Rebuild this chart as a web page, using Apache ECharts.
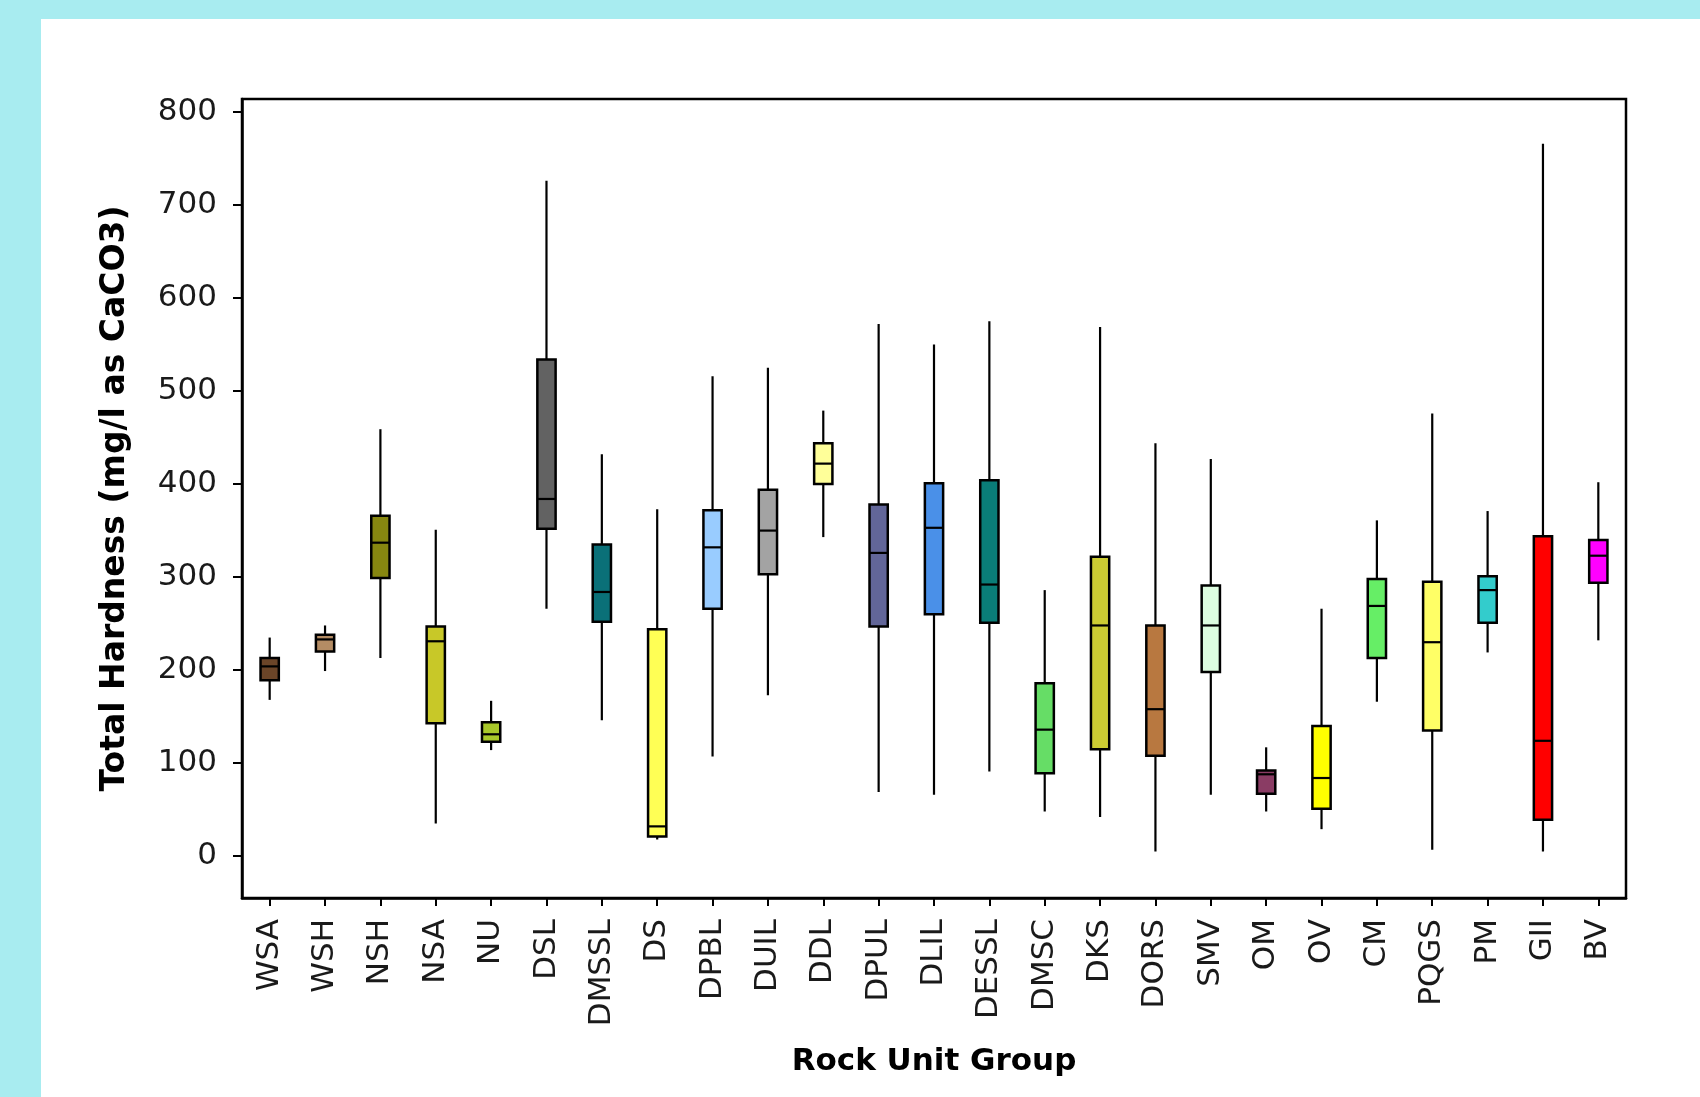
<!DOCTYPE html>
<html>
<head>
<meta charset="utf-8">
<script src="https://cdn.jsdelivr.net/npm/echarts@6/dist/echarts.min.js"></script>
<style>
html,body{margin:0;padding:0;background:#a8ecf0;}
#chart{width:1700px;height:1097px;}
</style>
</head>
<body>
<div id="chart"></div>
<script>
const categories = ['WSA','WSH','NSH','NSA','NU','DSL','DMSSL','DS','DPBL','DUIL','DDL','DPUL','DLIL','DESSL','DMSC','DKS','DORS','SMV','OM','OV','CM','PQGS','PM','GII','BV'];
const lows    = [168,199,213, 35,114,266,146, 18,107,173,343, 69, 66, 91, 48, 42,  5, 66, 48, 29,166,  7,219,  5,232];
const q1s     = [189,220,299,143,123,352,252, 21,266,303,400,247,260,251, 89,115,108,198, 67, 51,213,135,251, 39,294];
const medians = [204,233,337,231,131,384,284, 32,332,350,422,326,353,292,136,248,158,248, 88, 84,269,230,286,124,323];
const q3s     = [213,238,366,247,144,534,335,244,372,394,444,378,401,404,186,322,248,291, 92,140,298,295,301,344,340];
const highs   = [235,248,459,351,167,726,432,373,516,525,479,572,550,575,286,569,444,427,117,266,361,476,371,766,402];
const yTicks  = [0,100,200,300,400,500,600,700,800];
const boxColors = ['#6b4528','#b48c64','#878710','#c8c828','#a8c82a','#626262','#0a7078','#ffff55','#99ccff','#a3a3a3','#ffff99','#626699','#4a90e8','#0a7d78','#66dd66','#cccc33','#b87840','#ddfde0','#8a3c64','#ffff00','#66ee66','#ffff66','#33cccc','#ff0000','#ff00ff'];

const seriesData = categories.map((c, i) => [i, lows[i], q1s[i], medians[i], q3s[i], highs[i]]);

const chart = echarts.init(document.getElementById('chart'), null, {renderer: 'canvas'});
chart.setOption({
  animation: false,
  backgroundColor: '#a8ecf0',
  graphic: [{
    type: 'rect', z: -10, silent: true,
    shape: {x: 41, y: 19, width: 1700, height: 1097},
    style: {fill: '#ffffff'}
  }],
  grid: {
    left: 242, top: 99, right: 74, bottom: 199,
    show: true, borderColor: '#000', borderWidth: 2.5, backgroundColor: 'transparent'
  },
  xAxis: {
    type: 'category',
    data: categories,
    boundaryGap: true,
    axisLine: {show: true, onZero: false, lineStyle: {color: '#000', width: 2.5}},
    axisTick: {show: true, alignWithLabel: true, length: 8, lineStyle: {color: '#000', width: 2}},
    axisLabel: {rotate: 90, interval: 0, margin: 21, fontSize: 31, color: '#1a1a1a', fontFamily: 'DejaVu Sans'},
    splitLine: {show: false},
    name: 'Rock Unit Group',
    nameLocation: 'middle',
    nameGap: 148,
    nameTextStyle: {fontSize: 31, fontWeight: 'bold', color: '#000', fontFamily: 'DejaVu Sans'}
  },
  yAxis: {
    type: 'value',
    min: -45, max: 814,
    axisLine: {show: true, lineStyle: {color: '#000', width: 2.5}},
    axisTick: {show: true, length: 9, customValues: yTicks, lineStyle: {color: '#000', width: 2}},
    axisLabel: {customValues: yTicks, margin: 25, fontSize: 31, color: '#1a1a1a', fontFamily: 'DejaVu Sans'},
    splitLine: {show: false},
    name: 'Total Hardness (mg/l as CaCO3)',
    nameLocation: 'middle',
    nameGap: 110,
    nameTextStyle: {fontSize: 33, fontWeight: 'bold', color: '#000', fontFamily: 'DejaVu Sans'}
  },
  series: [{
    type: 'custom',
    data: seriesData,
    encode: {x: 0, y: [1, 2, 3, 4, 5]},
    renderItem: function (params, api) {
      const idx = api.value(0);
      const pLow = api.coord([idx, api.value(1)]);
      const pQ1 = api.coord([idx, api.value(2)]);
      const pMed = api.coord([idx, api.value(3)]);
      const pQ3 = api.coord([idx, api.value(4)]);
      const pHigh = api.coord([idx, api.value(5)]);
      const x = pLow[0];
      const w = api.size([1, 0])[0] * 0.33;
      return {
        type: 'group',
        children: [
          {type: 'line', shape: {x1: x, y1: pHigh[1], x2: x, y2: pLow[1]}, style: {stroke: '#000', lineWidth: 2.2}},
          {type: 'rect', shape: {x: x - w / 2, y: pQ3[1], width: w, height: pQ1[1] - pQ3[1]},
           style: {fill: boxColors[params.dataIndex], stroke: '#000', lineWidth: 2.5}},
          {type: 'line', shape: {x1: x - w / 2, y1: pMed[1], x2: x + w / 2, y2: pMed[1]}, style: {stroke: '#000', lineWidth: 2.2}}
        ]
      };
    }
  }]
});
</script>
</body>
</html>
